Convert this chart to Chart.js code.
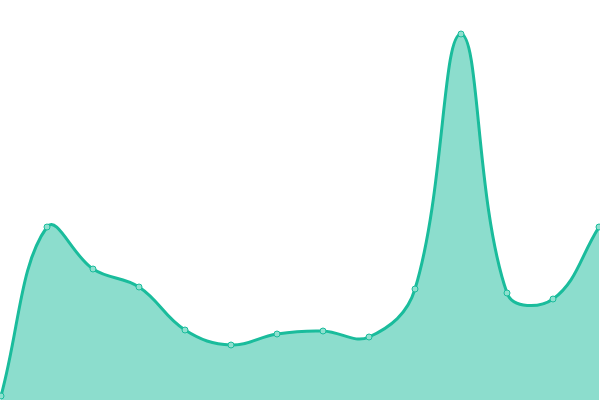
<!DOCTYPE html>
<html>
<head>
<meta charset="utf-8">
<script src="https://cdn.jsdelivr.net/npm/chart.js@4/dist/chart.umd.min.js"></script>
<style>
  html, body { margin: 0; padding: 0; background: #fff; }
  #wrap { width: 600px; height: 400px; }
</style>
</head>
<body>
<div id="wrap"><canvas id="chart"></canvas></div>
<script>
// Values (scale 0..100)
const labels = ['1', '2', '3', '4', '5', '6', '7', '8', '9', '10', '11', '12', '13', '14'];
const values = [1, 43.25, 32.75, 28.25, 17.5, 13.75, 16.5, 17.25, 15.75, 27.75, 91.5, 26.75, 25.25, 43.25];
const yMin = 0;
const yMax = 100;

new Chart(document.getElementById('chart'), {
    type: 'line',
    data: {
        labels: labels,
        datasets: [{
            data: values,
            borderColor: '#1abc9c',
            backgroundColor: 'rgba(26, 188, 156, 0.5)',
            borderWidth: 3,
            tension: 0.4,
            fill: 'origin',
            clip: false,
            pointRadius: 3,
            pointBorderWidth: 1,
            pointBackgroundColor: '#8fe0cf',
            pointBorderColor: '#1abc9c'
        }]
    },
    options: {
        responsive: true,
        maintainAspectRatio: false,
        animation: false,
        layout: { padding: { left: 1, right: 1, top: 0, bottom: 0 }, autoPadding: false },
        plugins: {
            legend: { display: false },
            tooltip: { enabled: false }
        },
        scales: {
            x: { display: false },
            y: { display: false, min: yMin, max: yMax }
        }
    }
});
</script>
</body>
</html>
